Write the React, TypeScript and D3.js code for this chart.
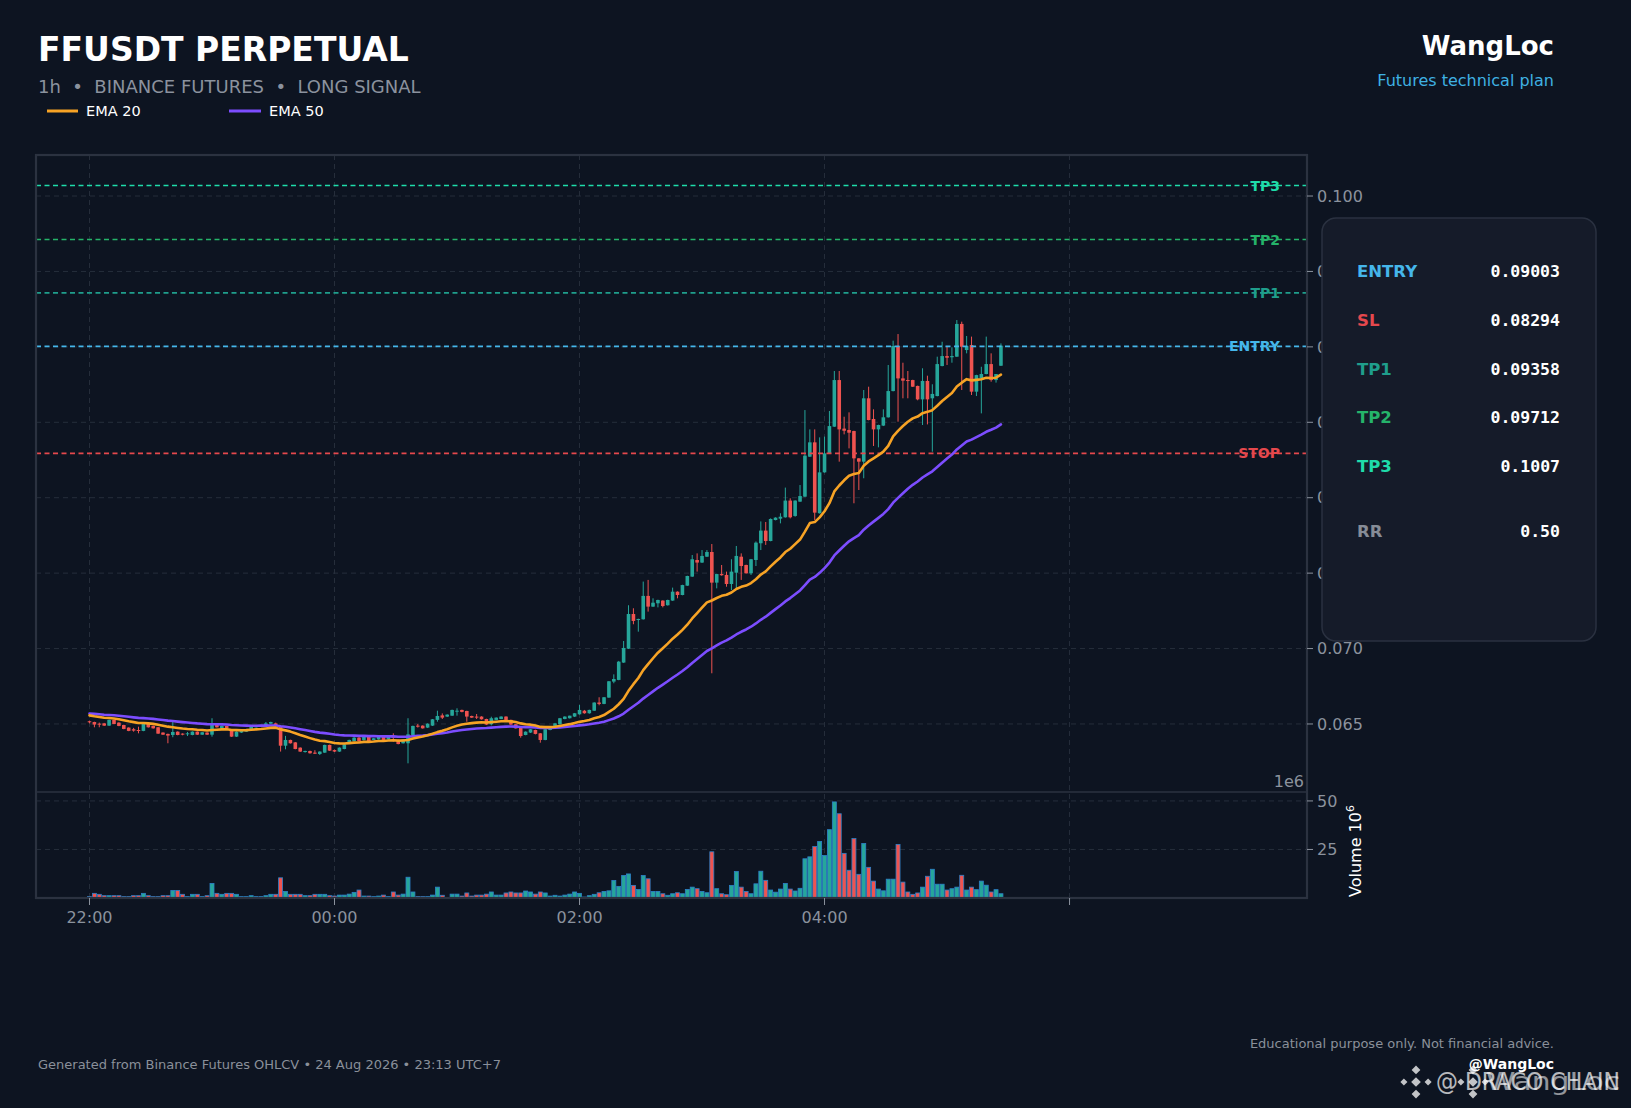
import React from "react";
import * as d3 from "d3";

const W = 1631;
const H = 1108;

// ---------- DATA ----------
const CANDLE_MINUTES = 2.4; // candle spacing, minutes after 22:00
const opens = [
  0.06518, 0.06513, 0.06502, 0.06504, 0.06489, 0.06527, 0.06509, 0.06493, 0.06476, 0.06465,
  0.06460, 0.06454, 0.06504, 0.06487, 0.06478, 0.06443, 0.06434, 0.06427, 0.06449, 0.06436,
  0.06436, 0.06427, 0.06449, 0.06429, 0.06443, 0.06429, 0.06493, 0.06471, 0.06487, 0.06456,
  0.06416, 0.06443, 0.06449, 0.06465, 0.06478, 0.06482, 0.06493, 0.06502, 0.06504, 0.06482,
  0.06356, 0.06394, 0.06378, 0.06343, 0.06314, 0.06321, 0.06310, 0.06301, 0.06310, 0.06361,
  0.06327, 0.06317, 0.06334, 0.06372, 0.06387, 0.06409, 0.06394, 0.06416, 0.06394, 0.06398,
  0.06416, 0.06398, 0.06416, 0.06394, 0.06372, 0.06372, 0.06427, 0.06489, 0.06489, 0.06476,
  0.06489, 0.06527, 0.06557, 0.06549, 0.06555, 0.06582, 0.06593, 0.06586, 0.06553, 0.06549,
  0.06549, 0.06533, 0.06498, 0.06527, 0.06533, 0.06549, 0.06527, 0.06498, 0.06476, 0.06427,
  0.06443, 0.06460, 0.06438, 0.06394, 0.06460, 0.06487, 0.06498, 0.06533, 0.06538, 0.06549,
  0.06564, 0.06588, 0.06571, 0.06588, 0.06642, 0.06633, 0.06675, 0.06781, 0.06792, 0.06907,
  0.06999, 0.07229, 0.07190, 0.07194, 0.07349, 0.07278, 0.07300, 0.07318, 0.07287, 0.07318,
  0.07377, 0.07355, 0.07417, 0.07477, 0.07587, 0.07570, 0.07609, 0.07640, 0.07437, 0.07494,
  0.07488, 0.07428, 0.07503, 0.07609, 0.07554, 0.07499, 0.07587, 0.07698, 0.07782, 0.07713,
  0.07852, 0.07861, 0.07870, 0.07981, 0.07879, 0.07974, 0.08007, 0.08272, 0.08367, 0.07897,
  0.08168, 0.08294, 0.08471, 0.08780, 0.08458, 0.08449, 0.08442, 0.08261, 0.08239, 0.08659,
  0.08522, 0.08453, 0.08478, 0.08533, 0.08707, 0.09006, 0.08791, 0.08780, 0.08780, 0.08741,
  0.08652, 0.08774, 0.08659, 0.08674, 0.08873, 0.08939, 0.08931, 0.08935, 0.09152, 0.08979,
  0.09012, 0.08703, 0.08791, 0.08820, 0.08886, 0.08780, 0.08875,
];
const highs = [
  0.06522, 0.06515, 0.06509, 0.06507, 0.06529, 0.06529, 0.06511, 0.06495, 0.06478, 0.06474,
  0.06482, 0.06507, 0.06507, 0.06489, 0.06480, 0.06445, 0.06436, 0.06513, 0.06451, 0.06438,
  0.06447, 0.06451, 0.06451, 0.06447, 0.06445, 0.06538, 0.06495, 0.06489, 0.06489, 0.06460,
  0.06451, 0.06458, 0.06467, 0.06484, 0.06489, 0.06495, 0.06513, 0.06515, 0.06509, 0.06484,
  0.06421, 0.06396, 0.06380, 0.06345, 0.06323, 0.06323, 0.06326, 0.06319, 0.06363, 0.06363,
  0.06330, 0.06345, 0.06370, 0.06396, 0.06416, 0.06414, 0.06425, 0.06418, 0.06407, 0.06418,
  0.06418, 0.06418, 0.06438, 0.06396, 0.06400, 0.06538, 0.06489, 0.06500, 0.06491, 0.06504,
  0.06533, 0.06588, 0.06570, 0.06564, 0.06595, 0.06604, 0.06595, 0.06588, 0.06555, 0.06566,
  0.06551, 0.06535, 0.06548, 0.06544, 0.06551, 0.06551, 0.06529, 0.06500, 0.06478, 0.06451,
  0.06467, 0.06462, 0.06440, 0.06467, 0.06484, 0.06507, 0.06540, 0.06551, 0.06555, 0.06573,
  0.06626, 0.06593, 0.06595, 0.06644, 0.06677, 0.06679, 0.06785, 0.06829, 0.06918, 0.07050,
  0.07287, 0.07267, 0.07198, 0.07444, 0.07455, 0.07333, 0.07324, 0.07320, 0.07324, 0.07404,
  0.07379, 0.07423, 0.07483, 0.07620, 0.07631, 0.07653, 0.07653, 0.07693, 0.07496, 0.07554,
  0.07510, 0.07592, 0.07680, 0.07631, 0.07556, 0.07594, 0.07710, 0.07843, 0.07839, 0.07863,
  0.07870, 0.07897, 0.08067, 0.07996, 0.07983, 0.08084, 0.08581, 0.08453, 0.08453, 0.08400,
  0.08405, 0.08575, 0.08840, 0.08840, 0.08537, 0.08566, 0.08444, 0.08263, 0.08714, 0.08736,
  0.08586, 0.08484, 0.08586, 0.08880, 0.09041, 0.09085, 0.08895, 0.08840, 0.08782, 0.08743,
  0.08858, 0.08809, 0.08752, 0.08935, 0.09034, 0.09005, 0.08997, 0.09178, 0.09167, 0.09072,
  0.09068, 0.08815, 0.08868, 0.09068, 0.08957, 0.08820, 0.09023,
];
const lows = [
  0.06504, 0.06478, 0.06478, 0.06487, 0.06487, 0.06498, 0.06485, 0.06465, 0.06452, 0.06449,
  0.06438, 0.06452, 0.06476, 0.06469, 0.06434, 0.06427, 0.06372, 0.06412, 0.06425, 0.06425,
  0.06420, 0.06425, 0.06427, 0.06427, 0.06427, 0.06416, 0.06476, 0.06469, 0.06469, 0.06414,
  0.06414, 0.06440, 0.06447, 0.06462, 0.06476, 0.06480, 0.06491, 0.06500, 0.06485, 0.06317,
  0.06332, 0.06370, 0.06332, 0.06314, 0.06310, 0.06303, 0.06301, 0.06294, 0.06308, 0.06321,
  0.06314, 0.06314, 0.06332, 0.06370, 0.06385, 0.06381, 0.06390, 0.06376, 0.06392, 0.06396,
  0.06392, 0.06396, 0.06383, 0.06365, 0.06370, 0.06239, 0.06425, 0.06476, 0.06469, 0.06473,
  0.06487, 0.06515, 0.06533, 0.06546, 0.06553, 0.06555, 0.06577, 0.06515, 0.06540, 0.06533,
  0.06529, 0.06493, 0.06491, 0.06525, 0.06531, 0.06524, 0.06493, 0.06469, 0.06409, 0.06425,
  0.06440, 0.06431, 0.06376, 0.06392, 0.06458, 0.06485, 0.06496, 0.06531, 0.06536, 0.06546,
  0.06562, 0.06568, 0.06568, 0.06586, 0.06624, 0.06631, 0.06673, 0.06770, 0.06790, 0.06905,
  0.06997, 0.07161, 0.07112, 0.07192, 0.07245, 0.07276, 0.07273, 0.07273, 0.07285, 0.07316,
  0.07333, 0.07353, 0.07415, 0.07475, 0.07510, 0.07567, 0.07607, 0.06836, 0.07399, 0.07483,
  0.07410, 0.07388, 0.07388, 0.07455, 0.07497, 0.07488, 0.07547, 0.07653, 0.07687, 0.07711,
  0.07850, 0.07830, 0.07868, 0.07863, 0.07874, 0.07972, 0.08005, 0.08270, 0.07852, 0.07895,
  0.08166, 0.08292, 0.08469, 0.08239, 0.08420, 0.08327, 0.07963, 0.08051, 0.08129, 0.08513,
  0.08343, 0.08334, 0.08475, 0.08531, 0.08705, 0.08504, 0.08659, 0.08659, 0.08734, 0.08646,
  0.08482, 0.08486, 0.08305, 0.08672, 0.08871, 0.08880, 0.08895, 0.08933, 0.08714, 0.08957,
  0.08681, 0.08674, 0.08559, 0.08818, 0.08769, 0.08763, 0.08873,
];
const closes = [
  0.06511, 0.06496, 0.06498, 0.06489, 0.06527, 0.06500, 0.06487, 0.06467, 0.06454, 0.06456,
  0.06456, 0.06504, 0.06478, 0.06471, 0.06436, 0.06429, 0.06423, 0.06447, 0.06427, 0.06429,
  0.06438, 0.06449, 0.06429, 0.06445, 0.06429, 0.06493, 0.06478, 0.06487, 0.06471, 0.06416,
  0.06449, 0.06454, 0.06465, 0.06482, 0.06487, 0.06493, 0.06504, 0.06513, 0.06487, 0.06356,
  0.06394, 0.06372, 0.06334, 0.06317, 0.06321, 0.06306, 0.06303, 0.06317, 0.06361, 0.06323,
  0.06317, 0.06343, 0.06365, 0.06394, 0.06409, 0.06387, 0.06420, 0.06383, 0.06405, 0.06416,
  0.06394, 0.06416, 0.06409, 0.06367, 0.06398, 0.06431, 0.06487, 0.06482, 0.06471, 0.06502,
  0.06531, 0.06553, 0.06542, 0.06562, 0.06593, 0.06588, 0.06580, 0.06549, 0.06542, 0.06542,
  0.06531, 0.06496, 0.06538, 0.06542, 0.06549, 0.06527, 0.06496, 0.06471, 0.06420, 0.06449,
  0.06465, 0.06434, 0.06394, 0.06465, 0.06482, 0.06504, 0.06538, 0.06549, 0.06555, 0.06571,
  0.06593, 0.06571, 0.06593, 0.06642, 0.06633, 0.06677, 0.06783, 0.06798, 0.06913, 0.07004,
  0.07229, 0.07183, 0.07196, 0.07349, 0.07278, 0.07304, 0.07322, 0.07282, 0.07322, 0.07377,
  0.07355, 0.07421, 0.07481, 0.07592, 0.07570, 0.07614, 0.07640, 0.07437, 0.07494, 0.07486,
  0.07428, 0.07510, 0.07614, 0.07547, 0.07499, 0.07592, 0.07702, 0.07782, 0.07713, 0.07859,
  0.07868, 0.07874, 0.07981, 0.07870, 0.07981, 0.08011, 0.08279, 0.08367, 0.07901, 0.08168,
  0.08294, 0.08475, 0.08780, 0.08453, 0.08444, 0.08431, 0.08261, 0.08239, 0.08659, 0.08515,
  0.08453, 0.08482, 0.08533, 0.08707, 0.09006, 0.08791, 0.08776, 0.08776, 0.08736, 0.08652,
  0.08774, 0.08652, 0.08688, 0.08886, 0.08939, 0.08928, 0.08939, 0.09152, 0.09001, 0.09005,
  0.08703, 0.08813, 0.08820, 0.08886, 0.08780, 0.08820, 0.09008,
];
// volume in millions
const volumes = [
  0.7, 2.4, 1.9, 1.2, 1.2, 1.2, 1.2, 0.7, 0.7, 1.2,
  1.2, 2.4, 1.2, 0.7, 0.7, 1.2, 1.2, 3.9, 3.9, 1.9,
  0.7, 1.9, 1.9, 0.7, 1.2, 7.5, 2.4, 1.9, 2.4, 2.4,
  1.9, 0.7, 0.7, 1.2, 0.7, 0.7, 1.2, 1.9, 1.9, 10.4,
  3.4, 1.9, 1.9, 1.9, 1.2, 1.2, 1.9, 1.9, 1.9, 1.2,
  1.0, 1.5, 1.5, 2.0, 2.9, 4.1, 1.0, 1.0, 0.7, 1.0,
  1.5, 0.7, 3.1, 1.5, 2.0, 10.7, 3.1, 0.7, 0.7, 0.7,
  1.5, 5.6, 1.4, 0.3, 2.0, 2.0, 1.0, 2.6, 1.0, 1.5,
  1.5, 2.0, 3.1, 1.5, 1.5, 2.6, 3.1, 2.6, 2.6, 3.6,
  3.1, 2.0, 3.1, 2.6, 1.0, 1.4, 1.0, 1.5, 2.0, 3.1,
  2.4, 0.5, 1.2, 1.9, 2.7, 3.4, 3.7, 9.0, 6.0, 11.6,
  12.4, 6.5, 4.4, 11.6, 9.9, 3.4, 3.4, 2.2, 1.4, 2.2,
  2.7, 2.2, 4.4, 5.6, 4.8, 3.4, 2.7, 23.8, 4.8, 2.2,
  1.7, 6.5, 13.6, 5.6, 3.4, 2.2, 7.3, 13.8, 9.1, 4.1,
  3.0, 4.6, 7.5, 4.6, 3.6, 5.0, 20.2, 21.2, 26.5, 29.1,
  21.9, 35.2, 49.5, 43.4, 23.0, 14.3, 30.6, 12.2, 28.1, 15.8,
  8.7, 4.6, 3.7, 9.7, 9.7, 27.6, 8.2, 3.1, 1.9, 2.6,
  5.6, 11.2, 14.8, 7.1, 7.1, 4.1, 4.8, 5.6, 11.7, 4.1,
  5.6, 4.3, 8.7, 6.6, 3.1, 4.3, 2.2,
];
const ema20Seed = 0.06562;
const ema50Seed = 0.06572;

const priceTicks = [0.065, 0.07, 0.075, 0.08, 0.085, 0.09, 0.095, 0.1];
const volumeTicks = [25, 50];
const timeTicks = [0, 120, 240, 360, 480];
const timeTickLabels = ["22:00", "00:00", "02:00", "04:00", ""];

const levelNames = ["TP3", "TP2", "TP1", "ENTRY", "STOP"];
const levelValues = [0.1007, 0.09712, 0.09358, 0.09003, 0.08294];

const infoLabels = ["ENTRY", "SL", "TP1", "TP2", "TP3", "RR"];
const infoValues = ["0.09003", "0.08294", "0.09358", "0.09712", "0.1007", "0.50"];

// ---------- STYLE ----------
const BG = "#0d1421";
const UP = "#26a69a";
const DOWN = "#ef5350";
const GRID = "#262e3b";
const AXIS_TXT = "#8b929d";
const levelColor: Record<string, string> = {
  TP3: "#1fdcaa",
  TP2: "#25b36a",
  TP1: "#1f9e8c",
  ENTRY: "#45b6ea",
  STOP: "#e5484d",
  SL: "#e5484d",
  RR: "#868c97",
};
const FONT = "DejaVu Sans, Verdana, sans-serif";
const MONO = "DejaVu Sans Mono, monospace";

const L = 36, R = 1307, T = 155, MID = 792, B = 898;

function ema(values: number[], n: number, seed: number) {
  const a = 2 / (n + 1);
  const out: number[] = [];
  let prev = seed;
  for (const v of values) {
    prev = a * v + (1 - a) * prev;
    out.push(prev);
  }
  return out;
}

function BinanceLogo({ x, y, s }: { x: number; y: number; s: number }) {
  const d = (cx: number, cy: number, r: number) =>
    `M${cx},${cy - r}L${cx + r},${cy}L${cx},${cy + r}L${cx - r},${cy}Z`;
  return (
    <g fill="#ffffff" opacity={0.75}>
      <path d={d(x, y, s * 0.22)} />
      <path d={d(x, y - s * 0.55, s * 0.2)} />
      <path d={d(x, y + s * 0.55, s * 0.2)} />
      <path d={d(x - s * 0.55, y, s * 0.16)} />
      <path d={d(x + s * 0.55, y, s * 0.16)} />
    </g>
  );
}

export default function App() {
  const x = d3.scaleLinear().domain([-26.2, 596.3]).range([L, R]);
  const y = d3.scaleLinear().domain([0.06049, 0.10272]).range([MID, T]);
  const yv = d3.scaleLinear().domain([0, 54.6]).range([B, MID]);

  const candles = closes.map((c, i) => ({
    i,
    t: i * CANDLE_MINUTES,
    o: opens[i],
    h: highs[i],
    l: lows[i],
    c,
    v: volumes[i],
  }));
  const e20 = ema(closes, 20, ema20Seed);
  const e50 = ema(closes, 50, ema50Seed);
  const line = d3
    .line<number>()
    .x((_, i) => x(i * CANDLE_MINUTES))
    .y((d) => y(d))
    .curve(d3.curveLinear);

  const bodyW = 3.6;
  const volW = 4.0;

  return (
    <div style={{ position: "fixed", left: 0, top: 0, width: W, height: H, background: BG }}>
      <svg width={W} height={H} style={{ display: "block" }} fontFamily={FONT}>
        <rect x={0} y={0} width={W} height={H} fill={BG} />
        <defs>
          <clipPath id="pclip">
            <rect x={L} y={T} width={R - L} height={MID - T} />
          </clipPath>
          <clipPath id="vclip">
            <rect x={L} y={MID} width={R - L} height={B - MID} />
          </clipPath>
        </defs>

        {/* Header */}
        <text x={38} y={61} fill="#ffffff" fontSize={33} fontWeight="bold">
          FFUSDT PERPETUAL
        </text>
        <text x={38} y={93} fill="#8b929e" fontSize={18} xmlSpace="preserve">
          {"1h  •  BINANCE FUTURES  •  LONG SIGNAL"}
        </text>
        <line x1={47} x2={78} y1={111} y2={111} stroke="#f7a325" strokeWidth={3} />
        <text x={86} y={116} fill="#ffffff" fontSize={14.5}>EMA 20</text>
        <line x1={229} x2={261} y1={111} y2={111} stroke="#7c4dff" strokeWidth={3} />
        <text x={269} y={116} fill="#ffffff" fontSize={14.5}>EMA 50</text>

        <text x={1554} y={55} fill="#ffffff" fontSize={26} fontWeight="bold" textAnchor="end">
          WangLoc
        </text>
        <text x={1554} y={86} fill="#3fb1e3" fontSize={16} textAnchor="end">
          Futures technical plan
        </text>

        {/* Grid */}
        <g stroke={GRID} strokeWidth={1} strokeDasharray="5,4">
          {priceTicks.map((p) => (
            <line key={"g" + p} x1={L} x2={R} y1={y(p)} y2={y(p)} />
          ))}
          {volumeTicks.map((v) => (
            <line key={"gv" + v} x1={L} x2={R} y1={yv(v)} y2={yv(v)} />
          ))}
          {timeTicks.map((t) => (
            <line key={"gt" + t} x1={x(t)} x2={x(t)} y1={T} y2={B} />
          ))}
        </g>

        {/* Candles */}
        <g clipPath="url(#pclip)">
          {candles.map((d) => {
            const col = d.c >= d.o ? UP : DOWN;
            const cx = x(d.t);
            const top = y(Math.max(d.o, d.c));
            const bot = y(Math.min(d.o, d.c));
            return (
              <g key={"c" + d.i}>
                <line x1={cx} x2={cx} y1={y(d.h)} y2={y(d.l)} stroke={col} strokeWidth={1} />
                <rect x={cx - bodyW / 2} y={top} width={bodyW} height={Math.max(1, bot - top)} fill={col} />
              </g>
            );
          })}
        </g>

        {/* Levels */}
        <g clipPath="url(#pclip)">
          {levelNames.map((n, k) => {
            const yy = y(levelValues[k]);
            return (
              <g key={"lv" + n}>
                <text
                  x={1280}
                  y={yy}
                  dy="0.36em"
                  fill={levelColor[n]}
                  fontSize={14}
                  fontWeight="bold"
                  textAnchor="end"
                >
                  {n}
                </text>
                <line
                  x1={L}
                  x2={R}
                  y1={yy}
                  y2={yy}
                  stroke={levelColor[n]}
                  strokeWidth={1.6}
                  strokeDasharray="5,3.5"
                />
              </g>
            );
          })}
        </g>

        {/* EMAs */}
        <g clipPath="url(#pclip)" fill="none" strokeLinejoin="round" strokeLinecap="round">
          <path d={line(e50) || ""} stroke="#7c4dff" strokeWidth={2.6} />
          <path d={line(e20) || ""} stroke="#f7a325" strokeWidth={2.6} />
        </g>

        {/* Volume */}
        <g clipPath="url(#vclip)">
          {candles.map((d) => (
            <rect
              key={"v" + d.i}
              x={x(d.t) - volW / 2}
              y={yv(d.v)}
              width={volW}
              height={yv(0) - yv(d.v)}
              fill={d.c >= d.o ? UP : DOWN}
              stroke="#2d80c8"
              strokeWidth={0.8}
            />
          ))}
        </g>

        {/* Panel frame */}
        <rect x={L} y={T} width={R - L} height={B - T} fill="none" stroke="#2b3240" strokeWidth={2.2} />
        <line x1={L} x2={R} y1={MID} y2={MID} stroke="#2b3240" strokeWidth={1.6} />

        {/* Price axis */}
        <g>
          {priceTicks.map((p) => (
            <g key={"pt" + p}>
              <line x1={R} x2={R + 6} y1={y(p)} y2={y(p)} stroke={AXIS_TXT} strokeWidth={1} />
              <text x={R + 10} y={y(p)} dy="0.36em" fill={AXIS_TXT} fontSize={16}>
                {d3.format(".3f")(p)}
              </text>
            </g>
          ))}
          <text x={R - 3} y={787} fill={AXIS_TXT} fontSize={16} textAnchor="end">1e6</text>
          {volumeTicks.map((v) => (
            <g key={"vt" + v}>
              <line x1={R} x2={R + 6} y1={yv(v)} y2={yv(v)} stroke={AXIS_TXT} strokeWidth={1} />
              <text x={R + 10} y={yv(v)} dy="0.36em" fill={AXIS_TXT} fontSize={16}>
                {v}
              </text>
            </g>
          ))}
          <text transform="translate(1361,897) rotate(-90)" fill="#ffffff" fontSize={16}>
            Volume{"  "}
            <tspan>10</tspan>
            <tspan dy={-7} fontSize={11}>6</tspan>
          </text>
        </g>

        {/* Time axis */}
        <g>
          {timeTicks.map((t, k) => (
            <g key={"tt" + t}>
              <line x1={x(t)} x2={x(t)} y1={B} y2={B + 7} stroke={AXIS_TXT} strokeWidth={1} />
              <text x={x(t)} y={917} dy="0.36em" fill={AXIS_TXT} fontSize={16} textAnchor="middle">
                {timeTickLabels[k]}
              </text>
            </g>
          ))}
        </g>

        {/* Info box */}
        <rect x={1322} y={218} width={274} height={423} rx={14} fill="#151b29" stroke="#2a3140" strokeWidth={1.5} />
        {infoLabels.map((lab, k) => {
          const yy = k < 5 ? 271 + k * 48.8 : 531;
          return (
            <g key={"info" + lab}>
              <text x={1357} y={yy} dy="0.36em" fill={levelColor[lab]} fontSize={16.5} fontWeight="bold">
                {lab}
              </text>
              <text
                x={1560}
                y={yy}
                dy="0.36em"
                fill="#ffffff"
                fontSize={16.5}
                fontWeight="bold"
                fontFamily={MONO}
                textAnchor="end"
              >
                {infoValues[k]}
              </text>
            </g>
          );
        })}

        {/* Footer */}
        <text x={38} y={1064} dy="0.36em" fill="#8a909a" fontSize={13}>
          Generated from Binance Futures OHLCV • 24 Aug 2026 • 23:13 UTC+7
        </text>
        <text x={1554} y={1043} dy="0.36em" fill="#8a909a" fontSize={13} textAnchor="end">
          Educational purpose only. Not financial advice.
        </text>
        <text x={1554} y={1064} dy="0.36em" fill="#ffffff" fontSize={14} fontWeight="bold" textAnchor="end">
          @WangLoc
        </text>

        {/* Watermark */}
        <BinanceLogo x={1416} y={1082} s={22} />
        <text x={1436} y={1090} fill="#ffffff" opacity={0.7} fontSize={24} textLength={184} lengthAdjust="spacingAndGlyphs">
          @ DRACO CHAIN
        </text>
        <BinanceLogo x={1473} y={1082} s={22} />
        <text x={1486} y={1090} fill="#ffffff" opacity={0.55} fontSize={24} textLength={134} lengthAdjust="spacingAndGlyphs">
          WangLoc
        </text>
      </svg>
    </div>
  );
}
